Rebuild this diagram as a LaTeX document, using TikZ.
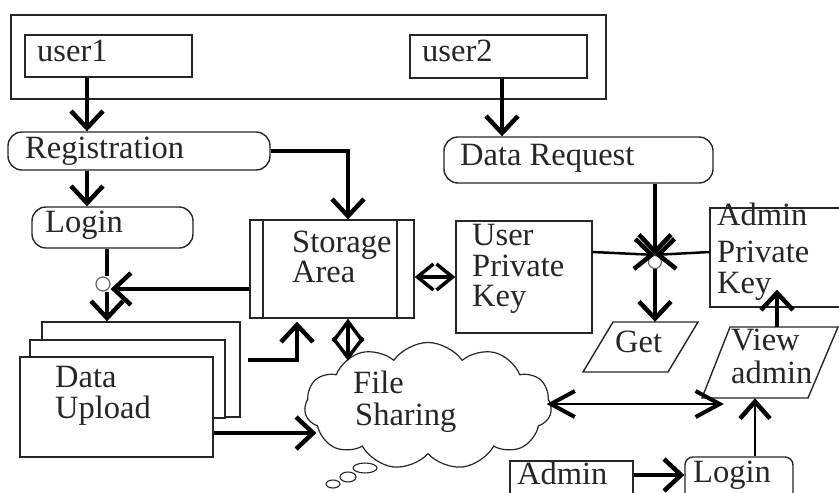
\documentclass[tikz,border=0pt]{standalone}
\usepackage{fontspec}
\setmainfont{Liberation Serif}
\usetikzlibrary{arrows.meta,shapes.symbols,calc}
\begin{document}
\begin{tikzpicture}[x=1pt,y=-1pt,
  bx/.style={draw=black!85,line width=1.4pt,fill=white,inner sep=0pt},
  rbx/.style={bx,rounded corners=14pt},
  txt/.style={anchor=base west,inner sep=0pt,font=\fontsize{32.5}{30}\selectfont,text=black!85},
  arr/.style={line width=4.5pt,-{Straight Barb[length=17pt,width=32pt,line width=4.5pt]}},
  thinarr/.style={line width=2.5pt,-{Straight Barb[length=17pt,width=30pt,line width=4.5pt]}},
  dbl/.style={line width=4pt,{Straight Barb[length=16pt,width=26pt,line width=3.5pt]}-{Straight Barb[length=16pt,width=26pt,line width=3.5pt]}},
  tdbl/.style={line width=4pt,{Straight Barb[length=20pt,width=30pt,line width=3.5pt]}-{Straight Barb[length=20pt,width=30pt,line width=3.5pt]}},
  thindbl/.style={line width=2.5pt,{Straight Barb[length=24pt,width=26pt,line width=4pt]}-{Straight Barb[length=24pt,width=26pt,line width=4pt]}},
  shp/.style={draw=black!85,line width=1.4pt,fill=white}]
\useasboundingbox (0,0) rectangle (839,493);
% helper x positions
\coordinate (xa) at (87,0);
\coordinate (xb) at (348,0);
\coordinate (xc) at (502,0);
\coordinate (xd) at (655,0);
\coordinate (xe) at (777,0);
\coordinate (xf) at (755,0);
\coordinate (xg) at (107,0);
\coordinate (xh) at (297,0);
\coordinate (ya) at (0,289);
\coordinate (yb) at (0,360);
\coordinate (yc) at (0,433);
\coordinate (yd) at (0,404);
\coordinate (ye) at (0,475);
\coordinate (yf) at (0,277);
\coordinate (yg) at (0,252);
% boxes
\node[bx,minimum width=595pt,minimum height=84pt] (outer) at (308.5,57) {};
\node[bx,minimum width=167pt,minimum height=42pt] (user1) at (108.5,56) {};
\node[bx,minimum width=177pt,minimum height=43pt] (user2) at (498.5,56.5) {};
\node[rbx,minimum width=262pt,minimum height=38pt] (reg) at (139,151) {};
\node[rbx,minimum width=161pt,minimum height=41pt] (login) at (112.5,227.5) {};
\node[bx,minimum width=164pt,minimum height=98pt] (storage) at (332,269) {};
\draw[draw=black!85,line width=1.4pt] (263,220) -- (263,318) (397,220) -- (397,318);
\node[bx,minimum width=136pt,minimum height=112pt] (upk) at (524,277) {};
\node[rbx,minimum width=269pt,minimum height=46pt] (dreq) at (578.5,160) {};
\node[bx,minimum width=140pt,minimum height=99pt] (apk) at (780,257.5) {};
% parallelograms
\draw[shp] (613,322) -- (698,322) -- (668,372) -- (583,372) -- cycle;
\node[minimum width=100pt,minimum height=50pt,inner sep=0pt] (get) at (640.5,347) {};
\draw[shp] (730,327) -- (838,327) -- (808,398) -- (702,398) -- cycle;
\node[minimum width=110pt,minimum height=71pt,inner sep=0pt] (view) at (769,362.5) {};
% bottom boxes
\node[bx,minimum width=123pt,minimum height=40pt] (admin) at (571.5,481) {};
\node[bx,rounded corners=8pt,minimum width=108pt,minimum height=44pt] (login2) at (739,479) {};
% data upload stack
\node[bx,minimum width=198pt,minimum height=95pt] (up3) at (141,369.5) {};
\node[bx,minimum width=195pt,minimum height=78pt] (up2) at (127.5,379) {};
\node[bx,minimum width=193pt,minimum height=100pt] (up) at (116.5,407) {};
% cloud
\node[cloud,draw=black!85,line width=1.2pt,fill=white,cloud puffs=11,cloud puff arc=110,aspect=2,minimum width=247pt,minimum height=127pt,inner sep=0pt] (fs) at (428,406) {};
\draw[draw=black!85,line width=1.1pt] (365,468) ellipse [x radius=12pt,y radius=5pt];
\draw[draw=black!85,line width=1.1pt] (348,477) ellipse [x radius=8pt,y radius=5pt];
\draw[draw=black!85,line width=1.1pt] (333,484) ellipse [x radius=7pt,y radius=4pt];
% junction circles
\node[circle,draw=black!60,line width=1.2pt,fill=white,minimum size=13pt,inner sep=0pt] (j1) at (655,262) {};
\node[circle,draw=black!60,line width=1.2pt,fill=white,minimum size=14pt,inner sep=0pt] (j2) at (103,284) {};
% texts
\node[txt] (t1) at (37,61) {user1};
\node[txt] (t2) at (422,61) {user2};
\node[txt] (t3) at (25,158) {Registration};
\node[txt] (t4) at (45,232) {Login};
\node[txt] (t5) at (292,252) {Storage};
\node[txt] (t6) at (292,282) {Area};
\node[txt] (t7) at (472,245) {User};
\node[txt] (t8) at (472,276) {Private};
\node[txt] (t9) at (472,306) {Key};
\node[txt] (t10) at (460,165) {Data Request};
\node[txt] (t11) at (717,225) {Admin};
\node[txt] (t12) at (717,262) {Private};
\node[txt] (t13) at (717,293) {Key};
\node[txt] (t14) at (615,352) {Get};
\node[txt] (t15) at (731,350) {View};
\node[txt] (t16) at (731,383) {admin};
\node[txt] (t17) at (517,484) {Admin};
\node[txt] (t18) at (693,482) {Login};
\node[txt] (t19) at (353,393) {File};
\node[txt] (t20) at (355,425) {Sharing};
\node[txt] (t21) at (55,387) {Data};
\node[txt] (t22) at (55,418) {Upload};
% connectors
\draw[arr] (user1.south -| xa) -- (reg.north -| xa);
\draw[arr] (reg.south -| xa) -- (login.north -| xa);
\draw[arr,rounded corners=0pt] (reg.east) -- (reg.east -| xb) -- (storage.north -| xb);
\draw[arr] (user2.south -| xc) -- (dreq.north -| xc);
\draw[arr] (dreq.south -| xd) -- (j1.north);
\draw[thinarr] (upk.east |- yg) -- (j1.north);
\draw[thinarr] (apk.west |- yg) -- (j1.north);
\draw[arr] (j1.south) -- (get.north -| xd);
\draw[arr] (view.north -| xe) -- ($(apk.south -| xe)+(0,-18)$);
\draw[arr] (admin.east |- ye) -- (login2.west |- ye);
\draw[thinarr] (login2.north -| xf) -- (view.south -| xf);
\draw[thindbl] ($(fs.east |- yd)+(-5,0)$) -- ($(view.west |- yd)+(10,0)$);
\draw[dbl] (storage.east |- yf) -- (upk.west |- yf);
\draw[tdbl] (storage.south -| xb) -- ($(storage.south -| xb)+(0,42)$);
\draw[arr] (248,360) coordinate (s0) -- (s0 -| xh) -- ($(storage.south -| xh)+(0,3)$);
\draw[arr] (storage.west |- ya) -- ($(j2.east |- ya)+(0,0)$);
\draw[line width=4.5pt] (login.south -| xg) -- (j2.north -| xg);
\draw[arr] (j2.south -| xg) -- (up3.north -| xg);
\draw[arr] (up.east |- yc) -- ($(fs.west |- yc)+(12,0)$);
\end{tikzpicture}
\end{document}
